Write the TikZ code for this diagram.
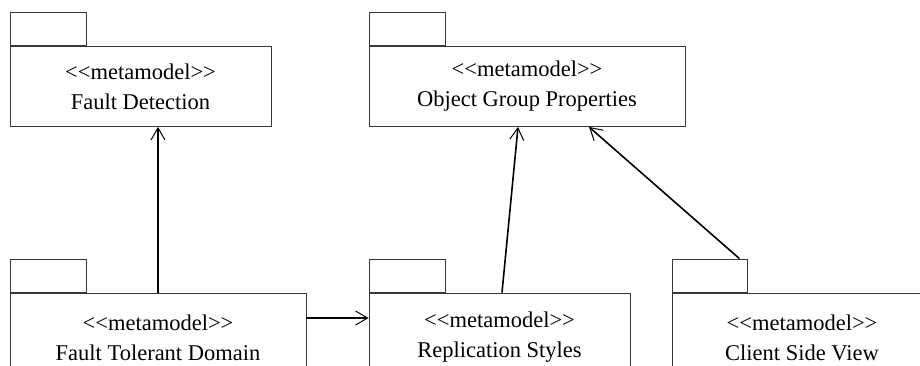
\documentclass[tikz,border=0pt]{standalone}
\usepackage{fontspec}
\setmainfont{Liberation Serif}[Ligatures=TeXOff]
\usetikzlibrary{arrows.meta}
\begin{document}
\begin{tikzpicture}[x=1pt,y=-1pt,
  pkg/.style={draw=black!78, line width=0.9pt, inner sep=0pt, align=center,
    font=\fontsize{22.5}{30}\selectfont},
  tabbox/.style={draw=black!78, line width=0.9pt, inner sep=0pt,
    minimum width=76pt, minimum height=33pt, anchor=south west},
  dep/.style={line width=1.6pt, -{Straight Barb[length=12pt,width=14pt,line width=1pt]}}]
\useasboundingbox (0,0) rectangle (920,366);
\clip (0,0) rectangle (920,366);

% top row
\node[pkg, minimum width=261pt, minimum height=80pt] (fd) at (140.5,86.5)
  {<<metamodel>>\\Fault Detection};
\node[tabbox] (fdtab) at (fd.north west) {};
\node[pkg, minimum width=316pt, minimum height=80pt] (ogp) at (527,86.5)
  {<<metamodel>>\\Object Group Properties};
\node[tabbox] (ogptab) at (ogp.north west) {};

% bottom row
\node[pkg, minimum width=296pt, minimum height=89pt] (ftd) at (158,337.5)
  {<<metamodel>>\\Fault Tolerant Domain};
\node[tabbox] (ftdtab) at (ftd.north west) {};
\node[pkg, minimum width=261pt, minimum height=89pt] (rs) at (499.5,337.5)
  {<<metamodel>>\\Replication Styles};
\node[tabbox] (rstab) at (rs.north west) {};
\node[pkg, minimum width=260pt, minimum height=89pt] (csv) at (802,337.5)
  {<<metamodel>>\\Client Side View};
\node[tabbox, minimum width=75pt] (csvtab) at (csv.north west) {};

% dependencies
\draw[dep] (ftd.north) -- (ftd.north |- fd.south);
\coordinate (hy) at (0,318);
\draw[dep] (ftd.east |- hy) -- (rs.west |- hy);
\draw[dep] ([xshift=2.5pt]rs.north) -- ([xshift=-9pt]ogp.south);
\draw[dep] ([xshift=-8pt]csvtab.north east) -- ([xshift=62pt]ogp.south);
\end{tikzpicture}
\end{document}
